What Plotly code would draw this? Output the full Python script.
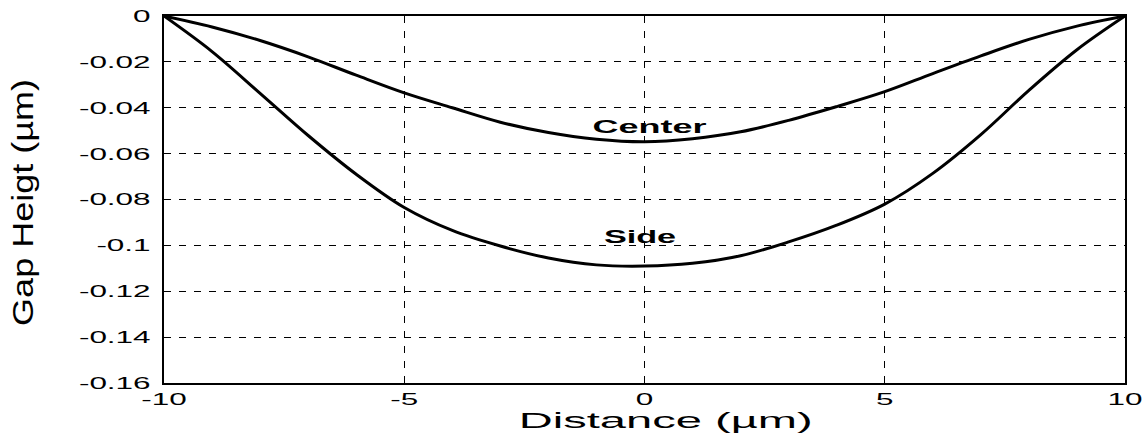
import plotly.graph_objects as go

distance = [-10, -9, -8, -7, -6, -5, -4, -3, -2, -1, 0, 1, 2, 3, 4, 5, 6, 7, 8, 9, 10]
center = [0.0, -0.0048, -0.0107, -0.0178, -0.0258, -0.0335, -0.0400, -0.0463, -0.0508, -0.0537,
          -0.0548, -0.0535, -0.0505, -0.0455, -0.0395, -0.0330, -0.0251, -0.0174, -0.0102, -0.0044, 0.0]
side = [0.0, -0.0155, -0.0337, -0.0521, -0.0690, -0.0835, -0.0935, -0.1003, -0.1055, -0.1085,
        -0.1090, -0.1078, -0.1045, -0.0985, -0.0912, -0.0820, -0.0686, -0.0517, -0.0324, -0.0147, 0.0]

y_ticks = [0, -0.02, -0.04, -0.06, -0.08, -0.1, -0.12, -0.14, -0.16]
y_labels = ["0", "-0.02", "-0.04", "-0.06", "-0.08", "-0.1", "-0.12", "-0.14", "-0.16"]
x_ticks = [-10, -5, 0, 5, 10]
x_labels = ["-10", "-5", "0", "5", "10"]

labels = ["Center", "Side"]
label_x = [0.11, -0.09]
label_y = [-0.0484, -0.0963]

x_title = "Distance (µm)"
y_title = "Gap Heigt (µm)"

FONT = "Liberation Sans, Arial, sans-serif"

fig = go.Figure()
fig.add_trace(go.Scatter(x=distance, y=center, mode="lines", line=dict(color="black", width=3),
                         name="Center", line_shape="spline"))
fig.add_trace(go.Scatter(x=distance, y=side, mode="lines", line=dict(color="black", width=3),
                         name="Side", line_shape="spline"))

for t, lx, ly in zip(labels, label_x, label_y):
    fig.add_annotation(x=lx, y=ly, text="<b>" + t + "</b>", showarrow=False,
                       font=dict(family=FONT, size=18, color="black"))

fig.add_annotation(xref="paper", yref="paper", x=0.522, y=-0.1025, text=x_title, showarrow=False,
                   xanchor="center", yanchor="middle",
                   font=dict(family=FONT, size=22, color="black"))
fig.add_annotation(xref="paper", yref="paper", x=-0.1475, y=0.493, text=y_title, showarrow=False,
                   textangle=-90, xanchor="center", yanchor="middle",
                   font=dict(family=FONT, size=30, color="black"))

fig.update_layout(
    width=1146, height=434,
    margin=dict(l=164, r=21, t=16, b=51),
    paper_bgcolor="white", plot_bgcolor="white",
    showlegend=False,
    font=dict(family=FONT, color="black"),
)
fig.update_xaxes(
    range=[-10, 10], tickvals=x_ticks, ticktext=x_labels, automargin=False,
    showgrid=True, gridcolor="black", griddash="7px,8px", gridwidth=1,
    showline=True, linecolor="black", linewidth=2, mirror=True,
    ticks="inside", ticklen=5, tickcolor="black", ticklabelstandoff=0,
    tickfont=dict(family=FONT, size=17, color="black"),
    zeroline=False,
)
fig.update_yaxes(
    range=[-0.16, 0], tickvals=y_ticks, ticktext=y_labels, automargin=False,
    showgrid=True, gridcolor="black", griddash="7px,8px", gridwidth=1,
    showline=True, linecolor="black", linewidth=2, mirror=True,
    ticks="inside", ticklen=5, tickcolor="black", ticklabelstandoff=8,
    tickfont=dict(family=FONT, size=17, color="black"),
    zeroline=False,
)

post = """
document.body.style.margin = '0';
document.body.style.overflow = 'hidden';
var gd = document.getElementById('{plot_id}');
var special = {"Center": 2.0, "Side": 1.9, "Distance (µm)": 2.14, "Gap Heigt (µm)": 1.2};
function stretchEl(t, f) {
  var L = t.getComputedTextLength();
  if (L > 0) { t.setAttribute('textLength', (L * f).toFixed(2)); t.setAttribute('lengthAdjust', 'spacingAndGlyphs'); }
}
gd.querySelectorAll('.xtick text, .ytick text').forEach(function(t){ stretchEl(t, 1.85); });
gd.querySelectorAll('.annotation text').forEach(function(t){
  var f = special[t.textContent];
  if (f) { stretchEl(t, f); }
});
"""

fig.write_html("out.html", post_script=post, config={"displayModeBar": False})
